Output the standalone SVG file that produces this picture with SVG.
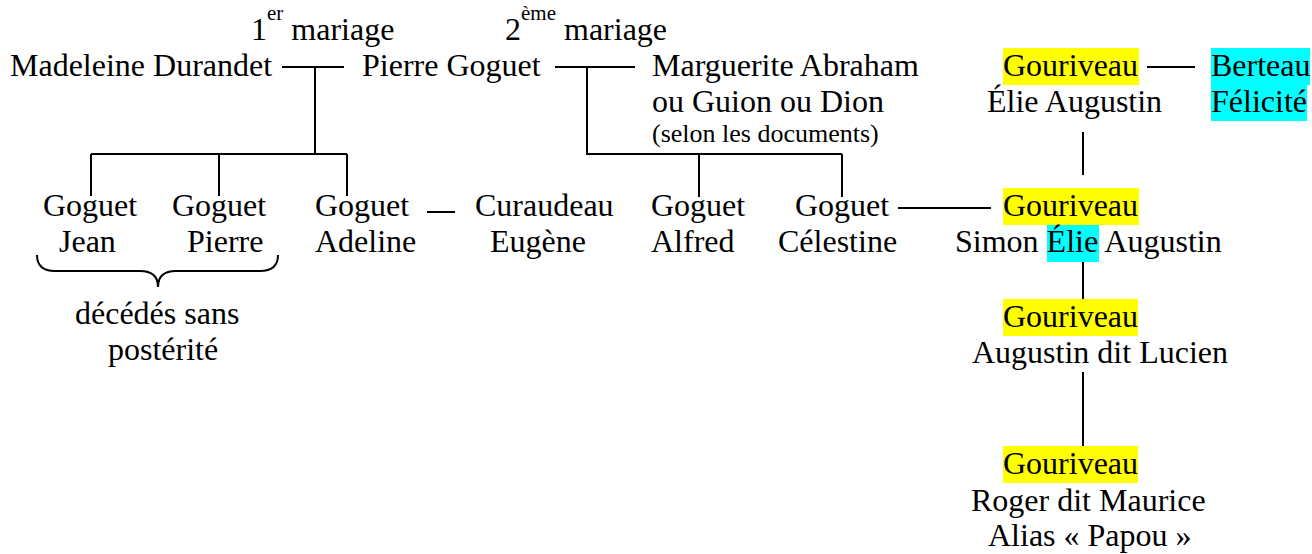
<svg xmlns="http://www.w3.org/2000/svg" width="1312" height="554" viewBox="0 0 1312 554" font-family="Liberation Serif, serif">
<style>
text{font-family:'Liberation Serif','Times New Roman',Times,serif;font-size:32px;fill:#000}
.sm{font-size:26px}
.sup{font-size:21px}
.hy{fill:#ffff00}
.hc{fill:#00ffff}
.ln{stroke:#000;stroke-width:2;fill:none}
</style>
<rect width="1312" height="554" fill="#fff"/>
<g id="labels">
<text x="251" y="40">1<tspan class="sup" dy="-20">er</tspan><tspan dy="20"> mariage</tspan></text>
<text x="505" y="40">2<tspan class="sup" dy="-20">ème</tspan><tspan dy="20"> mariage</tspan></text>
</g>
<g id="connectors">
<path class="ln" d="M282,67H344M315,67V154M91,154H347M91,154V196M219,154V196M347,154V196"/>
<path class="ln" d="M555,67H635M587,67V154H842M699,154V197M842,154V197"/>
<path class="ln" d="M427,212H455"/>
<path class="ln" d="M898,208H991"/>
<path class="ln" d="M1147,67H1195"/>
<path class="ln" d="M1083,132V175M1083,262V310M1083,372V447"/>
</g>
<g id="madeleine"><text x="10" y="76">Madeleine Durandet</text></g>
<g id="pierre"><text x="362" y="76">Pierre Goguet</text></g>
<g id="marguerite">
<text x="652" y="76">Marguerite Abraham</text>
<text x="652" y="112">ou Guion ou Dion</text>
<text class="sm" x="652" y="142">(selon les documents)</text>
</g>
<g id="elie">
<rect class="hy" x="1003" y="48" width="136" height="37"/>
<text x="1003" y="76">Gouriveau</text>
<text x="987" y="112">Élie Augustin</text>
</g>
<g id="felicite">
<rect class="hc" x="1211" y="48" width="99" height="37"/>
<rect class="hc" x="1211" y="85" width="96" height="36"/>
<text x="1211" y="76">Berteau</text>
<text x="1211" y="112">Félicité</text>
</g>
<g id="jean"><text x="43" y="216">Goguet</text><text x="59" y="252">Jean</text></g>
<g id="pierre2"><text x="172" y="216">Goguet</text><text x="187" y="252">Pierre</text></g>
<g id="adeline"><text x="315" y="216">Goguet</text><text x="315" y="252">Adeline</text></g>
<g id="eugene"><text x="475" y="216">Curaudeau</text><text x="490" y="252">Eugène</text></g>
<g id="alfred"><text x="651" y="216">Goguet</text><text x="651" y="252">Alfred</text></g>
<g id="celestine"><text x="795" y="216">Goguet</text><text x="778" y="252">Célestine</text></g>
<g id="simon">
<rect class="hy" x="1003" y="188" width="136" height="37"/>
<rect class="hc" x="1047" y="225" width="52" height="37"/>
<text x="1003" y="216">Gouriveau</text>
<text x="955" y="252">Simon Élie Augustin</text>
</g>
<g id="sans-posterite">
<path class="ln" stroke-width="1.6" d="M37,255Q37,271 55,271H140Q158,271 158,287Q158,271 176,271H260Q278,271 278,255"/>
<text x="75" y="324">décédés sans</text>
<text x="108" y="360">postérité</text>
</g>
<g id="lucien">
<rect class="hy" x="1003" y="299" width="135" height="37"/>
<text x="1003" y="327">Gouriveau</text>
<text x="972" y="363">Augustin dit Lucien</text>
</g>
<g id="roger">
<rect class="hy" x="1003" y="446" width="135" height="37"/>
<text x="1003" y="474">Gouriveau</text>
<text x="971" y="511">Roger dit Maurice</text>
<text x="988" y="546">Alias « Papou »</text>
</g>
</svg>
